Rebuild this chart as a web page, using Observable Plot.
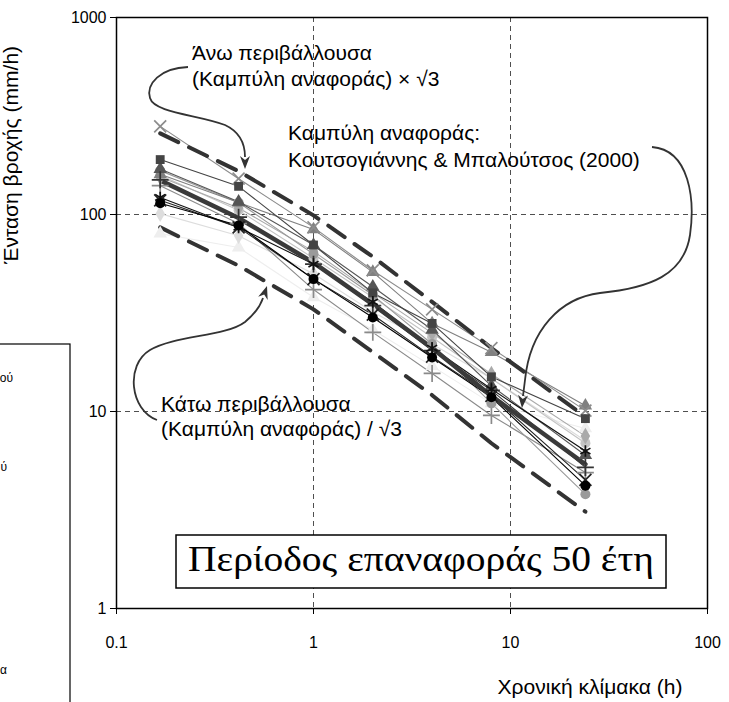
<!DOCTYPE html>
<html><head><meta charset="utf-8">
<script src="https://cdn.jsdelivr.net/npm/d3@7"></script>
<script src="https://cdn.jsdelivr.net/npm/@observablehq/plot@0.6"></script>
<style>
html,body{margin:0;padding:0;background:#fff;}
#chart{position:relative;width:729px;height:702px;overflow:hidden;}
</style></head><body><div id="chart"></div>
<script>
// Durations (h)
const durations = [1/6, 5/12, 1, 2, 4, 8, 24];
// Reference curve: Koutsoyiannis & Baloutsos (2000), T = 50 years (mm/h)
const referenceCurve = [149, 96, 57, 35, 21, 12, 5.4];
// Envelopes
const upperEnvelope = [258, 166, 99, 61, 36, 21, 9.4];
const lowerEnvelope = [86, 55, 33, 20, 12.1, 6.9, 3.1];

// Station series (mm/h) at the durations above
const stationNames = ["Σ1","Σ2","Σ3","Σ4","Σ5","Σ6","Σ7","Σ8","Σ9","Σ10","Σ11","Σ12","Σ13","Σ14"];
const stationValues = [
  [80, 68, 38, 26, 17, 11, 8.2],
  [101, 78, 50, 32, 22, 14.7, 7.1],
  [158, 105, 60, 38, 23.8, 14.7, 6.9],
  [155, 108, 65, 40, 25, 15.5, 7.5],
  [140, 90, 41.6, 25.2, 15.6, 9.55, 4.9],
  [167, 115, 63, 39, 22, 11, 3.8],
  [160, 115, 84, 51, 28, 20, 10.7],
  [280, 152, 86, 52, 33, 21, 10.1],
  [170, 116, 70, 43, 26, 13.5, 6.0],
  [190, 139, 70, 40, 28, 15, 9.2],
  [150, 97, 56, 34.5, 20.4, 12.8, 5.2],
  [122, 86, 56, 36, 21, 13, 6.3],
  [118, 86, 47, 31, 19, 12, 4.5],
  [114, 88, 47, 30, 18.8, 11.8, 4.2]
];
const stationSymbols = ["triangle","diamond","circle","diamond","plus","circle","triangle","times","triangle","square","plus","asterisk","times","circle"];
const stationColors = ["#eeeeee","#dddddd","#c4c4c4","#aaaaaa","#8a8a8a","#9a9a9a","#808080","#8c8c8c","#555555","#444444","#333333","#111111","#222222","#000000"];

const xTicks = [0.1, 1, 10, 100];
const yTicks = [1, 10, 100, 1000];
const xTickLabels = ["0.1", "1", "10", "100"];
const yTickLabels = ["1", "10", "100", "1000"];

const xTitle = "Χρονική κλίμακα (h)";
const yTitle = "Ένταση βροχής (mm/h)";
const periodLabel = "Περίοδος επαναφοράς 50 έτη";
const upperLabel = ["Άνω περιβάλλουσα", "(Καμπύλη αναφοράς) × √3"];
const refLabel = ["Καμπύλη αναφοράς:", "Κουτσογιάννης & Μπαλούτσος (2000)"];
const lowerLabel = ["Κάτω περιβάλλουσα", "(Καμπύλη αναφοράς) / √3"];
const legendFragments = ["ού", "ύ", "α"];

const toRows = (vals) => vals.map((v, i) => ({d: durations[i], v}));
const stationRows = stationValues.map(toRows);

const fillSymbols = new Set(["circle","square","triangle","diamond"]);
const marks = [
  Plot.ruleX([1, 10], {stroke: "#222", strokeWidth: 0.8, strokeDasharray: "5,4"}),
  Plot.ruleY([10, 100], {stroke: "#222", strokeWidth: 0.8, strokeDasharray: "5,4"})
];
stationRows.forEach((rows, s) => {
  marks.push(Plot.line(rows, {x: "d", y: "v", stroke: stationColors[s], strokeWidth: 1.1}));
});
marks.push(Plot.line(toRows(referenceCurve), {x: "d", y: "v", stroke: "#3a3a3a", strokeWidth: 4.5}));
marks.push(Plot.line(toRows(upperEnvelope), {x: "d", y: "v", stroke: "#333", strokeWidth: 4, strokeDasharray: "20,12"}));
marks.push(Plot.line(toRows(lowerEnvelope), {x: "d", y: "v", stroke: "#333", strokeWidth: 4, strokeDasharray: "20,12"}));
stationRows.forEach((rows, s) => {
  const sym = stationSymbols[s];
  const filled = fillSymbols.has(sym);
  marks.push(Plot.dot(rows, {
    x: "d", y: "v", symbol: () => sym, r: filled ? 5 : 5.5,
    fill: filled ? stationColors[s] : "none",
    stroke: filled ? "none" : stationColors[s],
    strokeWidth: 1.7
  }));
});
marks.push(Plot.frame({stroke: "#000", strokeWidth: 1.5}));
marks.push(Plot.axisX({ticks: xTicks, tickSize: 6, tickPadding: 22, tickFormat: (d) => xTickLabels[xTicks.indexOf(d)], fontSize: 16, label: null, stroke: "#000"}));
marks.push(Plot.axisY({ticks: yTicks, tickSize: 6, tickPadding: 4, tickFormat: (d) => yTickLabels[yTicks.indexOf(d)], fontSize: 16, label: null, stroke: "#000"}));

const plot = Plot.plot({
  width: 729, height: 702,
  marginLeft: 116, marginRight: 22, marginTop: 17, marginBottom: 94,
  style: {fontFamily: "'Liberation Sans', Arial, sans-serif", fontSize: "16px", background: "white", color: "#000"},
  x: {type: "log", domain: [0.1, 100]},
  y: {type: "log", domain: [1, 1000]},
  marks
});
document.getElementById("chart").appendChild(plot);

const svg = d3.select(plot);
const g = svg.append("g")
  .style("font-family", "'Liberation Sans', Arial, sans-serif")
  .style("text-anchor", "start")
  .attr("fill", "#000");

function addText(parent, t, x, y, size, anchor) {
  return parent.append("text").attr("x", x).attr("y", y)
    .style("font-size", size + "px").style("text-anchor", anchor || "start").text(t);
}
function fitSize(t, size, target, family) {
  const tmp = g.append("text").style("font-size", size + "px").text(t);
  if (family) tmp.style("font-family", family);
  const w = tmp.node().getComputedTextLength();
  tmp.remove();
  return size * target / w;
}

const annSize = fitSize(refLabel[1], 17, 352);
const titleSize = fitSize(xTitle, 17, 185);

// Axis titles
addText(g, xTitle, 590, 694, titleSize, "middle");
addText(g, yTitle, 0, 0, titleSize, "middle").attr("transform", "translate(18,155) rotate(-90)");

// Annotation texts
const addLines = (lines, x, y0, dy) => lines.forEach((t, i) => addText(g, t, x, y0 + i * dy, annSize));
addLines(upperLabel, 192, 60, 26);
addLines(refLabel, 288, 140, 27);
addLines(lowerLabel, 161, 411, 25);

// Curved arrows
const arrows = [
  {d: "M188,67 C160,68 146,84 150,98 C154,113 200,115 225,125 C240,132 245,145 245,157", tip: [245, 169], dir: [0, 1]},
  {d: "M157,420 C130,410 125,365 150,350 C175,335 225,337 245,322 C256,313 261,304 263,298", tip: [267, 286], dir: [0.33, -1]},
  {d: "M652,147 C690,150 695,200 690,235 C684,275 650,288 600,293 C560,298 530,330 525,380 L523,396", tip: [522, 408], dir: [-0.08, 1]}
];
arrows.forEach(a => {
  g.append("path").attr("d", a.d).attr("fill", "none").attr("stroke", "#333").attr("stroke-width", 1.8);
  const [tx, ty] = a.tip;
  const len = Math.hypot(a.dir[0], a.dir[1]);
  const ux = a.dir[0] / len, uy = a.dir[1] / len;
  const bx = tx - ux * 13, by = ty - uy * 13;
  const px = -uy * 5, py = ux * 5;
  g.append("path").attr("d", `M${tx},${ty} L${bx + px},${by + py} L${bx + ux*4},${by + uy*4} L${bx - px},${by - py} Z`).attr("fill", "#333");
});

// Return-period box
const serif = "'Liberation Serif', 'DejaVu Serif', serif";
g.append("rect").attr("x", 176).attr("y", 535).attr("width", 490).attr("height", 53).attr("fill", "#fff").attr("stroke", "#000").attr("stroke-width", 1.5);
addText(g, periodLabel, 188, 571, 36, "start").style("font-family", serif)
  .attr("textLength", 466).attr("lengthAdjust", "spacingAndGlyphs");

// Cropped legend box on the left
g.append("rect").attr("x", -10).attr("y", 344).attr("width", 80).attr("height", 400).attr("fill", "none").attr("stroke", "#000").attr("stroke-width", 1.2);
const legY = [382, 471, 674];
const legX = [13, 7, 7];
legendFragments.forEach((t, i) => addText(g, t, legX[i], legY[i], 12, "end"));
</script></body></html>
